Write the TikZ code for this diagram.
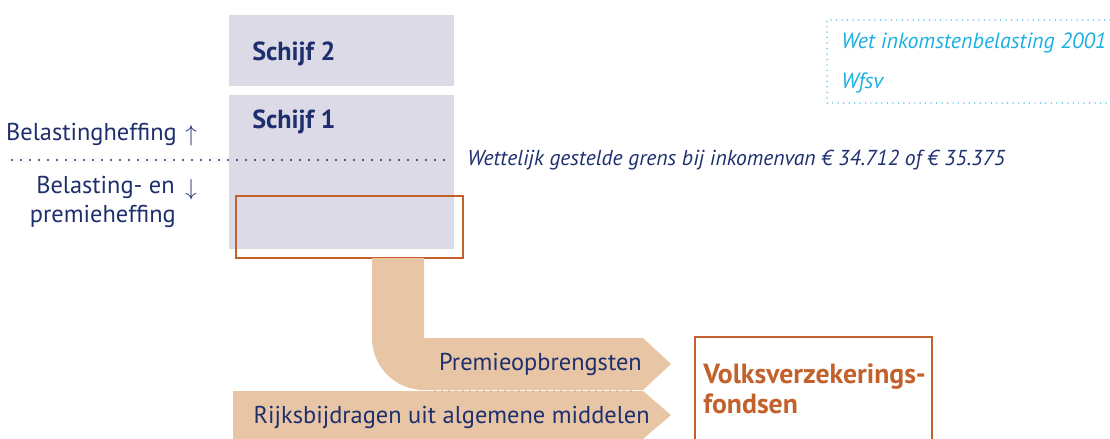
\documentclass[tikz,border=0pt]{standalone}
\usepackage{fontspec}
\setmainfont{PT Sans}
\definecolor{navy}{HTML}{1E2F6E}
\definecolor{lavender}{HTML}{DCDAE7}
\definecolor{rust}{HTML}{C2612B}
\definecolor{tan}{HTML}{E8C6A5}
\definecolor{sky}{HTML}{1BB0E2}

\begin{document}
\begin{tikzpicture}[x=0.75pt,y=-0.75pt,
	txt/.style={inner sep=0pt,text=navy,font=\fontsize{18.3}{22}\selectfont},
	schijftxt/.style={txt,font=\fontsize{19.6}{23}\selectfont\bfseries},
	wettxt/.style={inner sep=0pt,text=sky,font=\fontsize{16.5}{19}\selectfont\itshape},
	fondstxt/.style={inner sep=0pt,text=rust,font=\fontsize{20.8}{24}\selectfont\bfseries},
	dots/.style={line cap=round,line width=1.6pt,dash pattern=on 0pt off 6.75pt}]
	\useasboundingbox (0,0) rectangle (1110,439);
	\clip (0,0) rectangle (1110,439);

	% schijven
	\fill[lavender] (229,15) rectangle (454,86);
	\fill[lavender] (229,95) rectangle (454,249);
	\node[schijftxt,anchor=base west] (s2) at (252,60) {Schijf 2};
	\node[schijftxt,anchor=base west] (s1) at (252,128) {Schijf 1};
	\draw[rust,line width=1.2pt] (236,196) rectangle (463,258);

	% grens
	\draw[navy,dots] (12,160)--(447,160);
	\node[txt,anchor=base east] (up) at (177,140) {Belastingheffing};
	\node[txt,anchor=base west] at (185,141) {$\uparrow$};
	\node[txt,anchor=base east] (down) at (175,193) {Belasting- en};
	\node[txt,anchor=base west] at (185,195) {$\downarrow$};
	\node[txt,anchor=base east] (down2) at (176,222) {premieheffing};
	\node[txt,font=\fontsize{16.2}{20}\selectfont\itshape,anchor=base west] (grens) at (467,165)
		{Wettelijk gestelde grens bij inkomenvan € 34.712 of € 35.375};

	% wetten
	\draw[sky,dots,line width=1.1pt,dash pattern=on 0pt off 4.1pt] (1110,20)--(827,20)--(827,103)--(1110,103);
	\node[wettxt,anchor=base west] (wib) at (841,48) {Wet inkomstenbelasting 2001};
	\node[wettxt,anchor=base west] (wfsv) at (841,88) {Wfsv};

	% stromen
	\fill[tan] (372,258) [rounded corners=39pt] -- (372,390) [sharp corners] -- (643,390)
		-- (671,364) -- (643,338) -- (424,338) -- (424,258) -- cycle;
	\fill[tan] (233,391) -- (643,391) -- (671,415) -- (643,439) -- (233,439) -- cycle;
	\draw[rust,line cap=round,line width=1pt,dash pattern=on 0pt off 5.25pt] (435,391)--(637,391);
	\node[txt,anchor=base east] (premie) at (642,370) {Premieopbrengsten};
	\node[txt,anchor=base east] (rijk) at (650,423) {Rijksbijdragen uit algemene middelen};

	% fondsen
	\draw[rust,line width=1.2pt] (695,337) rectangle (932,460);
	\node[fondstxt,anchor=base west] (volks) at (703,383) {Volksverzekerings-};
	\node[fondstxt,anchor=base west] (fonds) at (703,413) {fondsen};
\end{tikzpicture}
\end{document}
